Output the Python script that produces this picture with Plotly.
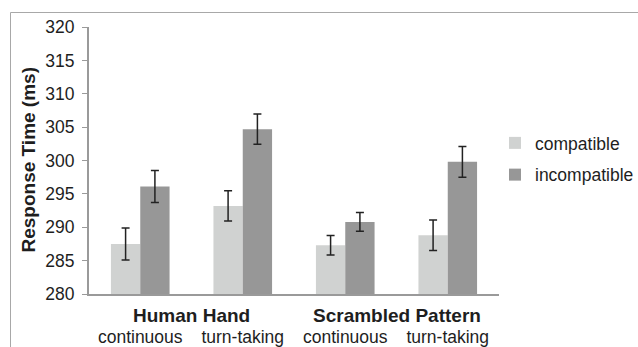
import plotly.graph_objects as go

groups = ["Human Hand", "Scrambled Pattern"]
conditions = ["continuous", "turn-taking", "continuous", "turn-taking"]
compatible = [287.5, 293.2, 287.3, 288.8]
compatible_err = [2.4, 2.25, 1.45, 2.3]
incompatible = [296.1, 304.7, 290.8, 299.8]
incompatible_err = [2.4, 2.25, 1.4, 2.3]
y_ticks = [280, 285, 290, 295, 300, 305, 310, 315, 320]
y_title = "Response Time (ms)"

FONT = "Liberation Sans, Arial, sans-serif"
TXT = "#1e1e1e"
AX = "#9a9a9a"

xpos = list(range(len(conditions)))

fig = go.Figure()
fig.add_trace(go.Bar(
    x=xpos, y=compatible, name="compatible", legendgroup="a",
    marker=dict(color="#d0d2d1", line=dict(width=0)),
    error_y=dict(type="data", array=compatible_err, color="#222", thickness=1.5, width=4),
))
fig.add_trace(go.Bar(
    x=xpos, y=incompatible, name="incompatible", legendgroup="b",
    marker=dict(color="#979797", line=dict(width=0)),
    error_y=dict(type="data", array=incompatible_err, color="#222", thickness=1.5, width=4),
))

L, R, T, B = 89, 139, 27, 53
W, H = 638, 347
pw, ph = W - L - R, H - T - B

def px2paper_x(px):
    return (px - L) / pw

def px2paper_y(py):
    return (H - B - py) / ph

fig.update_layout(
    width=W, height=H,
    margin=dict(l=L, r=R, t=T, b=B, pad=0, autoexpand=False),
    plot_bgcolor="white", paper_bgcolor="white",
    barmode="group", bargap=0.428, bargroupgap=0,
    font=dict(family=FONT, size=17.5, color=TXT),
    showlegend=True,
    legend=dict(
        xref="container", yref="container",
        x=495 / W, y=1 - 159 / H, xanchor="left", yanchor="middle",
        font=dict(family=FONT, size=17.5, color=TXT),
        tracegroupgap=6, itemwidth=30, bgcolor="rgba(0,0,0,0)",
    ),
    xaxis=dict(
        range=[-0.5, 3.5], tickvals=xpos, ticktext=conditions,
        showline=True, linecolor=AX, linewidth=2, ticks="",
        showgrid=False, zeroline=False, automargin=False,
        ticklabelstandoff=26,
        tickfont=dict(family=FONT, size=17.5, color=TXT),
    ),
    yaxis=dict(
        range=[280, 320], tickvals=y_ticks,
        showline=True, linecolor=AX, linewidth=2,
        ticks="outside", ticklen=5, tickcolor=AX, tickwidth=1,
        showgrid=False, zeroline=False, automargin=False,
        ticklabelstandoff=4,
        tickfont=dict(family=FONT, size=17.5, color=TXT),
    ),
)

fig.add_annotation(
    x=px2paper_x(28), xref="paper", y=0.5, yref="paper",
    text="<b>" + y_title + "</b>", textangle=-90, showarrow=False,
    xanchor="center", yanchor="middle",
    font=dict(family=FONT, size=19, color=TXT),
)

for i, g in enumerate(groups):
    fig.add_annotation(
        x=2 * i + 0.5, xref="x", y=px2paper_y(315), yref="paper",
        text="<b>" + g + "</b>", showarrow=False, yanchor="middle",
        font=dict(family=FONT, size=19, color=TXT),
    )

fig.add_shape(
    type="rect", xref="paper", yref="paper",
    x0=px2paper_x(10.5), x1=px2paper_x(700), y0=px2paper_y(400), y1=px2paper_y(12.5),
    line=dict(color="#a8a8a8", width=1), fillcolor="rgba(0,0,0,0)", layer="below",
)

fig.write_html("out.html")
